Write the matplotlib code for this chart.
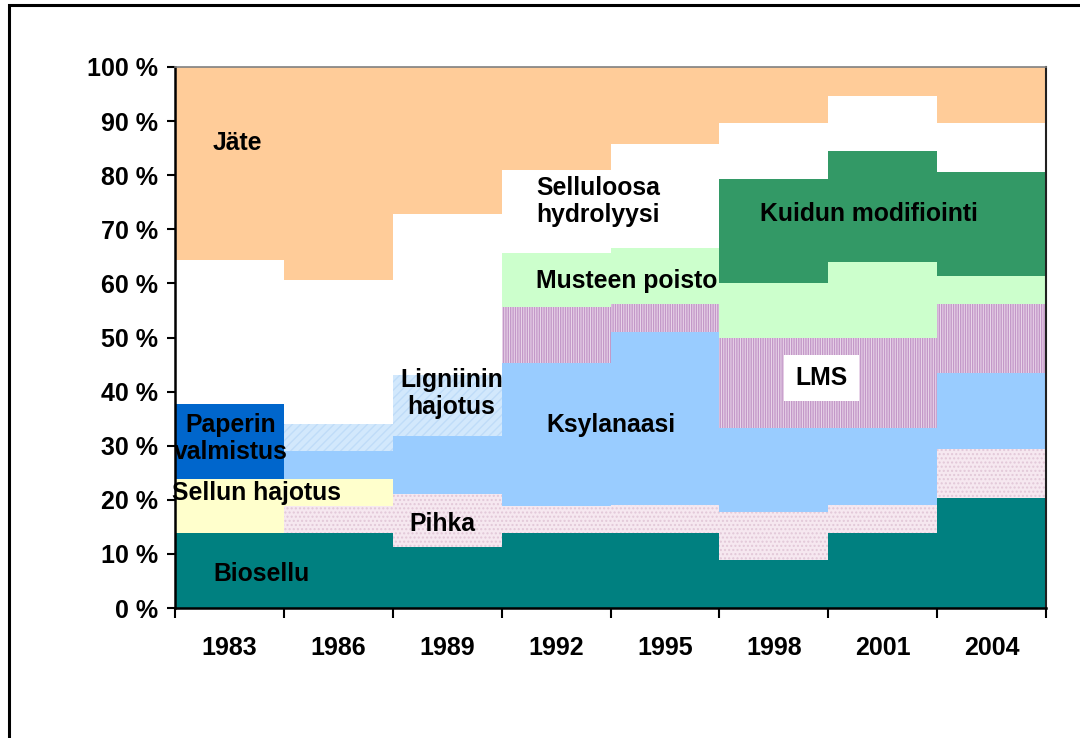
import numpy as np
import matplotlib
matplotlib.use("Agg")
import matplotlib.pyplot as plt
from matplotlib.patches import Rectangle

plt.rcParams['font.family'] = ['Liberation Sans', 'DejaVu Sans']
plt.rcParams['font.weight'] = 'bold'
plt.rcParams['hatch.linewidth'] = 1.0

years = ['1983', '1986', '1989', '1992', '1995', '1998', '2001', '2004']

# segment heights in %, bottom -> top
biosellu   = [13.9, 13.8, 11.3, 13.8, 13.9,  8.9, 13.9, 20.4]
pihka      = [ 0.0,  5.1,  9.8,  5.1,  5.1,  8.9,  5.1,  9.0]
sellun     = [ 9.9,  4.9,  0.0,  0.0,  0.0,  0.0,  0.0,  0.0]
paperin    = [14.0,  0.0,  0.0,  0.0,  0.0,  0.0,  0.0,  0.0]
ksylanaasi = [ 0.0,  5.3, 10.7, 26.4, 32.1, 15.5, 14.3, 14.1]
ligniini   = [ 0.0,  4.9, 11.3,  0.0,  0.0,  0.0,  0.0,  0.0]
lms        = [ 0.0,  0.0,  0.0, 10.4,  5.1, 16.7, 16.7, 12.7]
musteen    = [ 0.0,  0.0,  0.0, 10.0, 10.4, 10.1, 14.0,  5.2]
kuidun     = [ 0.0,  0.0,  0.0,  0.0,  0.0, 19.2, 20.5, 19.2]
selluloosa = [26.5, 26.6, 29.7, 15.3, 19.2, 10.4, 10.1,  9.0]
jate       = [35.7, 39.4, 27.2, 19.0, 14.2, 10.3,  5.4, 10.4]

series = [
    (biosellu,   '#008080', None,    None),
    (pihka,      '#F6E8F0', '#E2C8D8', '....'),
    (sellun,     '#FFFFCC', None,    None),
    (paperin,    '#0066CC', None,    None),
    (ksylanaasi, '#99CCFF', None,    None),
    (ligniini,   '#D2E8FC', '#BFDCF8', '////'),
    (lms,        '#EBD8EB', '#C398C8', '|' * 7),
    (musteen,    '#CCFFCC', None,    None),
    (kuidun,     '#339966', None,    None),
    (selluloosa, '#FFFFFF', None,    None),
    (jate,       '#FFCC99', None,    None),
]

fig = plt.figure(figsize=(10.8, 7.38), dpi=100)
ax = fig.add_axes([175/1080, 130/738, 871/1080, 541/738])

x = np.arange(len(years))
bottom = np.zeros(len(years))
for vals, col, hcol, hatch in series:
    vals = np.array(vals)
    if hatch:
        ax.bar(x, vals, width=1.0, bottom=bottom, color=col, edgecolor=hcol,
               linewidth=0, hatch=hatch)
    else:
        ax.bar(x, vals, width=1.0, bottom=bottom, color=col, linewidth=0)
    bottom += vals

ax.set_xlim(-0.5, len(years) - 0.5)
ax.set_ylim(0, 100)

ax.set_yticks(np.arange(0, 101, 10))
ax.set_yticklabels([f'{v} %' for v in range(0, 101, 10)])
ax.set_xticks(x)
ax.set_xticklabels(years)
ax.set_xticks(np.arange(-0.5, len(years)), minor=True)
ax.tick_params(axis='x', which='major', length=0, pad=20, labelsize=18)
ax.tick_params(axis='x', which='minor', length=7, width=1.5, direction='out')
ax.tick_params(axis='y', length=6, width=1.5, pad=6, labelsize=18)

for s in ['left', 'bottom']:
    ax.spines[s].set_linewidth(1.8)
    ax.spines[s].set_color('black')
ax.spines['top'].set_color('#808080')
ax.spines['top'].set_linewidth(1.2)
ax.spines['right'].set_color('#202020')
ax.spines['right'].set_linewidth(1.5)

fs = 17.8
ax.text(0.07, 86.0, 'Jäte', ha='center', va='center', fontsize=fs)
ax.text(2.815, 75.2, 'Selluloosa\nhydrolyysi', ha='left', va='center', fontsize=fs, linespacing=1.15)
ax.text(5.87, 72.8, 'Kuidun modifiointi', ha='center', va='center', fontsize=fs)
ax.text(2.815, 60.4, 'Musteen poisto', ha='left', va='center', fontsize=fs)
ax.text(5.44, 42.5, 'LMS', ha='center', va='center', fontsize=fs,
        bbox=dict(facecolor='white', edgecolor='none', pad=8))
ax.text(2.04, 39.7, 'Ligniinin\nhajotus', ha='center', va='center', fontsize=fs, linespacing=1.15)
ax.text(3.50, 33.8, 'Ksylanaasi', ha='center', va='center', fontsize=fs)
ax.text(0.01, 31.4, 'Paperin\nvalmistus', ha='center', va='center', fontsize=fs, linespacing=1.15)
ax.text(0.25, 21.3, 'Sellun hajotus', ha='center', va='center', fontsize=fs)
ax.text(1.96, 15.5, 'Pihka', ha='center', va='center', fontsize=fs)
ax.text(0.29, 6.3, 'Biosellu', ha='center', va='center', fontsize=fs)

# outer frame (runs off the right and bottom edges)
fig.patches.append(Rectangle((9/1080, -0.1), 1.2, 1.1 - 5/738, transform=fig.transFigure,
                             fill=False, edgecolor='black', linewidth=2.2, clip_on=False))

fig.savefig('out.png', dpi=100)
